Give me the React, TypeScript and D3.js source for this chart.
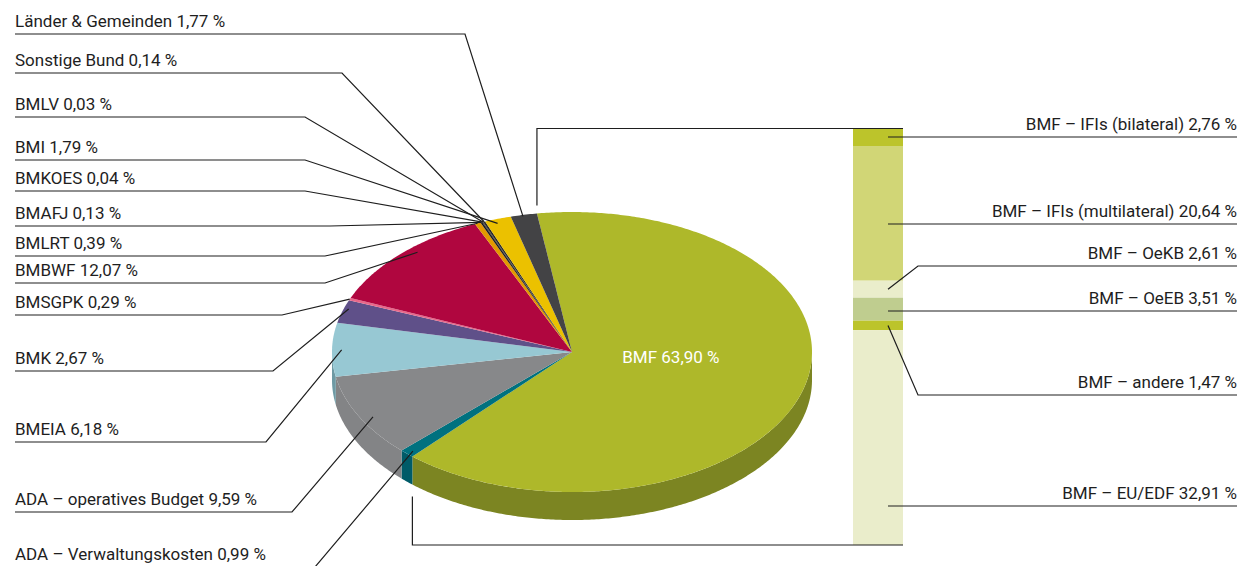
import * as d3 from "d3";

// pie slices, clockwise from the BMF slice
const sliceNames = [
  "BMF",
  "ADA – Verwaltungskosten",
  "ADA – operatives Budget",
  "BMEIA",
  "BMK",
  "BMSGPK",
  "BMBWF",
  "BMLRT",
  "BMAFJ",
  "BMKOES",
  "BMLV",
  "Sonstige Bund",
  "BMI",
  "Länder & Gemeinden",
];
const sliceValues = [63.9, 0.99, 9.59, 6.18, 2.67, 0.29, 12.07, 0.39, 0.13, 0.04, 0.03, 0.14, 1.79, 1.77];
const sliceColors = [
  "#aeb82a", "#00717f", "#87888a", "#97c8d3", "#5f5089", "#e8688a", "#b0063f",
  "#e39a00", "#1c1c1c", "#1c1c1c", "#2a2a2a", "#2a2a2a", "#ebc100", "#434345",
];
const sliceSideColors = [
  "#7c8522", "#005b68", "#838486", "#6e9aa4", "#4a3f6d", "#b24d68", "#7e0530",
  "#a87200", "#111", "#111", "#1a1a1a", "#1a1a1a", "#b09000", "#2e2e30",
];

// left labels, top to bottom
const leftLabels = [
  "Länder & Gemeinden", "Sonstige Bund", "BMLV", "BMI", "BMKOES", "BMAFJ", "BMLRT",
  "BMBWF", "BMSGPK", "BMK", "BMEIA", "ADA – operatives Budget", "ADA – Verwaltungskosten",
];
const leftLineY = [34, 73, 117, 160, 191, 226, 256, 283, 315, 371, 442, 512, 567];
const leftElbowX = [465, 342, 305, 305, 305, 330, 325, 325, 282, 273, 266, 292, 315];
// where the leader meets the slice: [share of the slice angle, share of radius]
const leftAnchor: [number, number][] = [
  [0.45, 0.99], [0.5, 1], [0.5, 1], [0.4, 0.97], [0.5, 1], [0.5, 1], [0.5, 1],
  [0.58, 0.96], [0.5, 1], [0.65, 0.98], [0.5, 0.96], [0.45, 0.95], [0.4, 0.97],
];

// bar of pie: the BMF share split up
const barNames = [
  "BMF – IFIs (bilateral)",
  "BMF – IFIs (multilateral)",
  "BMF – OeKB",
  "BMF – OeEB",
  "BMF – andere",
  "BMF – EU/EDF",
];
const barValues = [2.76, 20.64, 2.61, 3.51, 1.47, 32.91];
const barColors = ["#bcc42b", "#d1d676", "#eaedcb", "#bfcd8f", "#bcc42b", "#eaedcb"];
const rightLineY = [137, 224, 266, 311, 395, 506];
const rightElbow = [false, false, true, false, true, false];

const fmt = (v: number) => v.toFixed(2).replace(".", ",") + " %";

const W = 1250;
const H = 566;
const cx = 572;
const cy = 352;
const rx = 240;
const ry = 140;
const depth = 28;
const start = (-8.4 * Math.PI) / 180;

const font = "Roboto, 'DejaVu Sans', sans-serif";
const fontSize = 17;
const ink = "#1e1e1e";

const pt = (t: number, r = 1, dy = 0): [number, number] => [
  cx + rx * r * Math.sin(t),
  cy - ry * r * Math.cos(t) + dy,
];

const rim = (a0: number, a1: number, dy = 0) => {
  const n = Math.max(2, Math.ceil((a1 - a0) / 0.01));
  return d3.range(n + 1).map((i) => pt(a0 + ((a1 - a0) * i) / n, 1, dy));
};

const line = d3.line();

export default function App() {
  const arcs = d3
    .pie<number>()
    .sort(null)
    .startAngle(start)
    .endAngle(start + 2 * Math.PI)(sliceValues);

  const tops = arcs.map((a) => line([[cx, cy], ...rim(a.startAngle, a.endAngle)])! + "Z");

  const sides = arcs.map((a) => {
    const s = Math.max(a.startAngle, Math.PI / 2);
    const e = Math.min(a.endAngle, (3 * Math.PI) / 2);
    if (e <= s) return null;
    return line([...rim(s, e), ...rim(s, e, depth).reverse()])! + "Z";
  });

  const total = d3.sum(barValues);
  const y = d3.scaleLinear().domain([0, total]).range([128, 545]);
  const cum = d3.cumsum(barValues);
  const barX0 = 853;
  const barX1 = 903;
  const lineX0 = 888;
  const textRight = 1237;

  const bmf = arcs[0];
  const topPt = pt(bmf.startAngle);
  const botPt = pt(bmf.endAngle, 1, depth);
  const labelPt = pt((bmf.startAngle + bmf.endAngle) / 2, 0.43);

  return (
    <svg width={W} height={H} style={{ position: "absolute", left: 0, top: 0 }}>
      <rect width={W} height={H} fill="#fff" />

      {/* pie sides, then tops */}
      {sides.map((d, i) => (d ? <path key={"s" + i} d={d} fill={sliceSideColors[i]} /> : null))}
      {tops.map((d, i) => (
        <path key={"t" + i} d={d} fill={sliceColors[i]} />
      ))}
      <text
        x={labelPt[0]}
        y={labelPt[1] - 6}
        textAnchor="middle"
        fill="#fff"
        fontFamily={font}
        fontSize={fontSize}
      >
        {"BMF " + fmt(sliceValues[0])}
      </text>

      {/* bar */}
      {barValues.map((v, i) => (
        <rect
          key={"b" + i}
          x={barX0}
          y={y(cum[i] - v)}
          width={barX1 - barX0}
          height={y(cum[i]) - y(cum[i] - v)}
          fill={barColors[i]}
        />
      ))}

      {/* connectors between pie and bar */}
      <path
        d={`M${topPt[0]},${topPt[1] - 8}V${y(0) + 0.5}H${barX1}`}
        fill="none"
        stroke={ink}
        strokeWidth={1.2}
      />
      <path
        d={`M${botPt[0]},${botPt[1] + 12}V${y(total)}H${barX1}`}
        fill="none"
        stroke={ink}
        strokeWidth={1.2}
      />

      {/* left labels */}
      {leftLabels.map((name, i) => {
        const k = sliceNames.indexOf(name);
        const a = arcs[k];
        const [p, r] = leftAnchor[i];
        const end = pt(a.startAngle + (a.endAngle - a.startAngle) * p, r);
        const ly = leftLineY[i];
        return (
          <g key={"l" + i}>
            <path
              d={line([[15, ly], [leftElbowX[i], ly], end])!}
              fill="none"
              stroke={ink}
              strokeWidth={1.2}
            />
            <text x={15} y={ly - 7} fill={ink} fontFamily={font} fontSize={fontSize}>
              {name + " " + fmt(sliceValues[k])}
            </text>
          </g>
        );
      })}

      {/* right labels */}
      {barNames.map((name, i) => {
        const ly = rightLineY[i];
        const mid = y(cum[i] - barValues[i] / 2);
        const pts: [number, number][] = rightElbow[i]
          ? [[lineX0, mid], [lineX0 + 30, ly], [textRight, ly]]
          : [[lineX0, ly], [textRight, ly]];
        return (
          <g key={"r" + i}>
            <path d={line(pts)!} fill="none" stroke={ink} strokeWidth={1.2} />
            <text
              x={textRight}
              y={ly - 7.5}
              textAnchor="end"
              fill={ink}
              fontFamily={font}
              fontSize={fontSize}
            >
              {name + " " + fmt(barValues[i])}
            </text>
          </g>
        );
      })}
    </svg>
  );
}
